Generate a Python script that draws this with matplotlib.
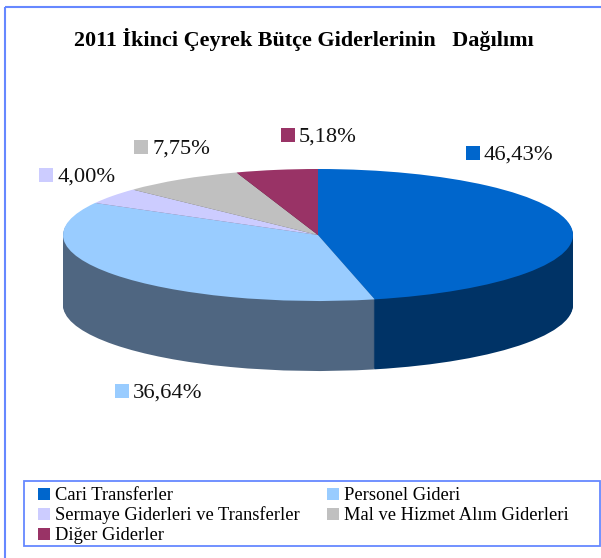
import matplotlib
matplotlib.use("Agg")
import matplotlib.pyplot as plt
from matplotlib.patches import Rectangle

plt.rcParams["font.family"] = ["Liberation Serif", "DejaVu Serif"]

# === DATA ===
title = "2011 İkinci Çeyrek Bütçe Giderlerinin   Dağılımı"
categories = ["Cari Transferler", "Personel Gideri", "Sermaye Giderleri ve Transferler",
              "Mal ve Hizmet Alım Giderleri", "Diğer Giderler"]
values = [46.43, 36.64, 4.00, 7.75, 5.18]
value_labels = ["46,43%", "36,64%", "4,00%", "7,75%", "5,18%"]
colors = ["#0066CC", "#99CCFF", "#CCCCFF", "#C0C0C0", "#993366"]
side_colors = ["#003366", "#4F6681", "#66667F", "#606060", "#4C1933"]

# === LAYOUT (pixels) ===
W, H = 601, 558
cx, cy, rx, ry, depth = 318, 235, 255, 66, 70
border = "#6688FF"
label_pos = [(466, 146), (115, 384), (39, 168), (134, 140), (281, 128)]
legend_pos = [(38, 488), (327, 488), (38, 508), (327, 508), (38, 528)]

fig = plt.figure(figsize=(W / 100, H / 100), dpi=100, facecolor="white")

# full figure axes in pixel coords for the frame, labels and legend
bg = fig.add_axes([0, 0, 1, 1])
bg.set_xlim(0, W)
bg.set_ylim(H, 0)
bg.axis("off")
bg.plot([5, 5], [H, 7], color=border, lw=1.5, solid_capstyle="butt")
bg.plot([5, W], [7, 7], color=border, lw=1.5, solid_capstyle="butt")
bg.add_patch(Rectangle((24, 481), 576, 65, fc="white", ec=border, lw=1.3))

bg.text(303.5, 46, title, fontsize=15.9, fontweight="bold", ha="center", va="baseline", color="black")

for (x, y), lab, c in zip(label_pos, value_labels, colors):
    bg.add_patch(Rectangle((x, y), 14, 14, fc=c, ec="none"))
    bg.text(x + 18, y + 14, lab, fontsize=16.2, ha="left", va="baseline", color="#111111")

for (x, y), cat, c in zip(legend_pos, categories, colors):
    bg.add_patch(Rectangle((x, y), 12, 12, fc=c, ec="none"))
    bg.text(x + 17, y + 12, cat, fontsize=13.3, ha="left", va="baseline", color="black")

# pie axes: unit circle squashed into the ellipse, extra room below for the side
d = depth / ry
ax = fig.add_axes([(cx - rx) / W, 1 - (cy + ry + depth) / H, 2 * rx / W, (2 * ry + depth) / H])
ax.patch.set_alpha(0)

# stack of dark pies makes the side wall
for i in range(depth, 0, -1):
    ax.pie(values, colors=side_colors, startangle=90, counterclock=False,
           center=(0, -i / ry), wedgeprops={"linewidth": 0.6, "edgecolor": "none"})
ax.pie(values, colors=colors, startangle=90, counterclock=False, center=(0, 0),
       wedgeprops={"linewidth": 0})
ax.set_aspect("auto")
ax.set_xlim(-1, 1)
ax.set_ylim(-1 - d, 1)
ax.axis("off")

fig.savefig("out.png", dpi=100)
